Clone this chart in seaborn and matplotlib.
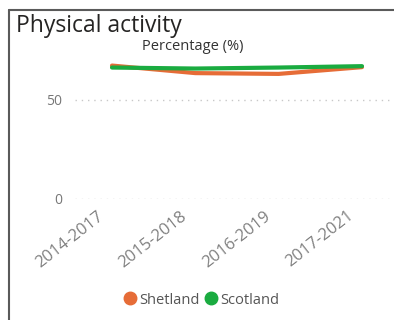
import matplotlib
matplotlib.use("Agg")
import matplotlib.pyplot as plt
import seaborn as sns
import pandas as pd
from matplotlib.lines import Line2D
from matplotlib.transforms import ScaledTranslation

periods = ["2014-2017", "2015-2018", "2016-2019", "2017-2021"]
shetland = [67.2, 63.4, 63.0, 66.4]
scotland = [66.2, 65.7, 66.2, 66.9]
areas = ["Shetland", "Scotland"]
colors = {"Shetland": "#E66C37", "Scotland": "#1AAB40"}
y_ticks = [0, 50]

df = pd.DataFrame({
    "period": periods * 2,
    "area": [areas[0]] * 4 + [areas[1]] * 4,
    "value": shetland + scotland,
})
df["pos"] = list(range(len(periods))) * 2

sns.set_theme(style="white")
plt.rcParams["font.family"] = ["Open Sans", "DejaVu Sans"]

W, H = 394, 320
fig = plt.figure(figsize=(W / 100, H / 100), dpi=100)
fig.patch.set_facecolor("white")

# plot area in pixel coordinates
left, right, top, bottom = 75, 392, 60, 199
ax = fig.add_axes([left / W, 1 - bottom / H, (right - left) / W, (bottom - top) / H])

sns.lineplot(data=df, x="pos", y="value", hue="area", palette=colors,
             linewidth=3, ax=ax, legend=False, sort=False)

ax.set_xlim(-0.444, 3.36)
ax.set_ylim(0, 70)
ax.set_yticks(y_ticks)
ax.set_yticklabels([str(v) for v in y_ticks], fontsize=10, color="#777777")
ax.set_xticks(range(len(periods)))
ax.set_xticklabels([])
ax.tick_params(axis="y", length=0, pad=9)
ax.tick_params(axis="x", length=0)

# slanted category labels, set slightly left of each point
lab_tf = ax.get_xaxis_transform() + ScaledTranslation(-15 / 100, -9 / 100, fig.dpi_scale_trans)
for i, p in enumerate(periods):
    ax.text(i, 0, p, transform=lab_tf, rotation=38, ha="right", va="top",
            rotation_mode="anchor", fontsize=12, color="#808080", clip_on=False)

for y in y_ticks:
    ax.axhline(y, color="#c8c8c8", linewidth=1, linestyle=(0, (1, 3.5)), zorder=0)
for s in ax.spines.values():
    s.set_visible(False)
ax.set_xlabel("")
ax.set_ylabel("")
ax.set_facecolor("none")

fig.text(16 / W, 1 - 26 / H, "Physical activity", fontsize=16.5, color="#252423",
         va="center", ha="left", fontweight="medium")
fig.text(193 / W, 1 - 47 / H, "Percentage (%)", fontsize=10.5, color="#333333",
         va="center", ha="center")

# legend
handles = [Line2D([], [], marker="o", linestyle="", markersize=9,
                  markerfacecolor=colors[a], markeredgecolor=colors[a]) for a in areas]
fig.legend(handles, areas, loc="center", bbox_to_anchor=(201 / W, 1 - 300 / H),
           ncol=2, frameon=False, fontsize=10.5, labelcolor="#555555",
           handletextpad=0.1, columnspacing=0.3, handlelength=1.0)

# card border
fig.add_artist(Line2D([8.5 / W, 394 / W], [1 - 9.5 / H, 1 - 9.5 / H],
                      transform=fig.transFigure, color="#5a5a5a", linewidth=1.5))
fig.add_artist(Line2D([8.5 / W, 8.5 / W], [1 - 9.5 / H, 0],
                      transform=fig.transFigure, color="#5a5a5a", linewidth=1.5))

fig.savefig("out.png", dpi=100)
